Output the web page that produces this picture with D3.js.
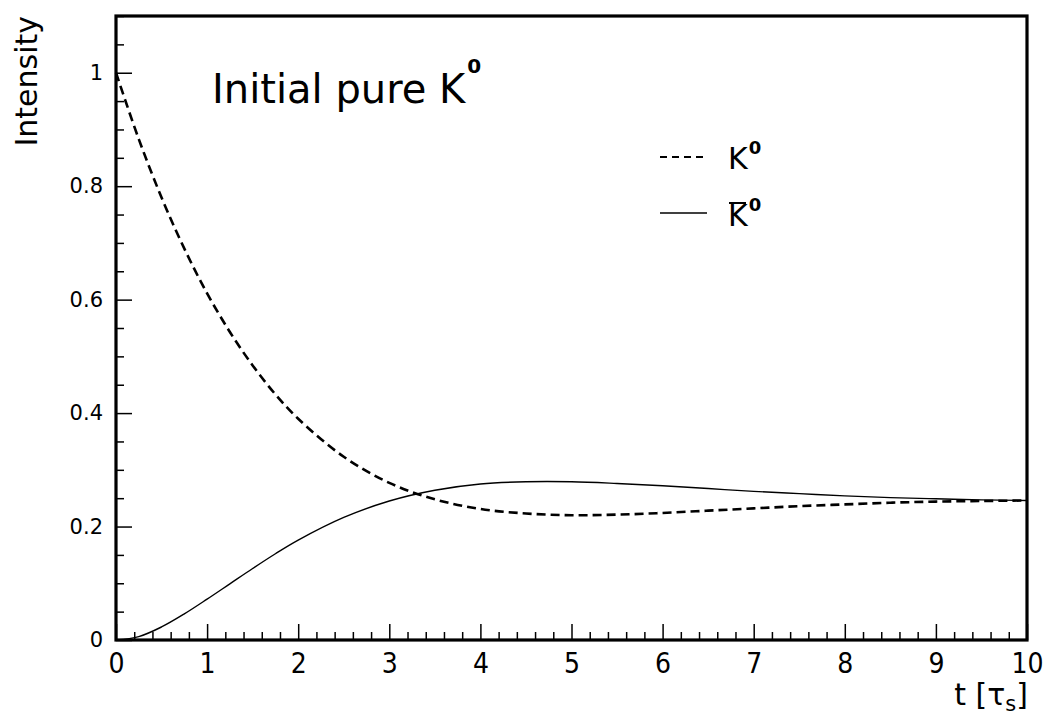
<!DOCTYPE html>
<html>
<head>
<meta charset="utf-8">
<script src="https://cdn.jsdelivr.net/npm/d3@7"></script>
<style>
  body { margin: 0; background: #fff; }
  text { font-family: "DejaVu Sans", sans-serif; fill: #000; }
</style>
</head>
<body>
<div class="chart"></div>
<script>
// Time in units of tau_S
var times = [0, 0.25, 0.5, 0.75, 1, 1.25, 1.5, 1.75, 2, 2.5, 3, 3.5, 4, 4.5, 5,
             5.5, 6, 6.5, 7, 7.5, 8, 8.5, 9, 9.5, 10];
// Intensity of K0 (dashed) and K0bar (solid)
var k0 = [1.000, 0.883, 0.780, 0.690, 0.611, 0.543, 0.484, 0.433, 0.390, 0.323, 0.277,
          0.248, 0.231, 0.223, 0.220, 0.221, 0.224, 0.228, 0.232, 0.236, 0.239, 0.242,
          0.244, 0.245, 0.246];
var k0bar = [0.000, 0.006, 0.023, 0.046, 0.072, 0.099, 0.126, 0.152, 0.176, 0.216, 0.245,
             0.264, 0.275, 0.279, 0.279, 0.276, 0.272, 0.267, 0.262, 0.258, 0.254, 0.251,
             0.249, 0.247, 0.246];

var xTickLabels = [0, 1, 2, 3, 4, 5, 6, 7, 8, 9, 10];
var yTickLabels = [0, 0.2, 0.4, 0.6, 0.8, 1];

// Create svg canvas and margins
var svgWidth = 1044;
var svgHeight = 717;

var margin = {
    top: 16,
    bottom: 77,
    left: 116,
    right: 17
};
var width = svgWidth - margin.left - margin.right;
var height = svgHeight - margin.top - margin.bottom;

var svg = d3.select(".chart")
            .append("svg")
            .attr("width", svgWidth)
            .attr("height", svgHeight);

var chartGroup = svg.append("g")
                    .attr("transform", `translate(${margin.left}, ${margin.top})`);

// Scales
var xScale = d3.scaleLinear().domain([0, 10]).range([0, width]);
var yScale = d3.scaleLinear().domain([0, 1.1]).range([height, 0]);

// Minor ticks
var xMinor = d3.range(0, 10.001, 0.2).filter(d => Math.abs(d - Math.round(d)) > 1e-6);
var yMinor = d3.range(0, 1.1001, 0.05).filter(d => Math.abs(d * 5 - Math.round(d * 5)) > 1e-6);

chartGroup.append("g")
          .attr("transform", `translate(0, ${height})`)
          .call(d3.axisBottom(xScale).tickValues(xMinor).tickSize(-8).tickFormat(""))
          .call(g => g.select(".domain").remove());
chartGroup.append("g")
          .call(d3.axisLeft(yScale).tickValues(yMinor).tickSize(-8).tickFormat(""))
          .call(g => g.select(".domain").remove());

// Major ticks and labels
var xAxis = chartGroup.append("g")
          .attr("transform", `translate(0, ${height})`)
          .call(d3.axisBottom(xScale).tickValues(xTickLabels).tickSize(-16)
                  .tickPadding(13).tickFormat(d3.format("d")));
xAxis.select(".domain").remove();
xAxis.selectAll("text")
     .style("font-family", "'DejaVu Sans Condensed', 'DejaVu Sans', sans-serif")
     .style("font-size", "28px");

var yAxis = chartGroup.append("g")
          .call(d3.axisLeft(yScale).tickValues(yTickLabels).tickSize(-16)
                  .tickPadding(13).tickFormat(d => d === 0 || d === 1 ? d : d3.format(".1f")(d)));
yAxis.select(".domain").remove();
yAxis.selectAll("text").style("font-size", "21px");

chartGroup.selectAll(".tick line").attr("stroke", "#000").attr("stroke-width", 1.5);

// Curves
var line = d3.line()
             .x((d, i) => xScale(times[i]))
             .y(d => yScale(d))
             .curve(d3.curveCatmullRom);

chartGroup.append("path")
          .datum(k0bar)
          .attr("d", line)
          .attr("fill", "none")
          .attr("stroke", "#000")
          .attr("stroke-width", 1.4);

chartGroup.append("path")
          .datum(k0)
          .attr("d", line)
          .attr("fill", "none")
          .attr("stroke", "#000")
          .attr("stroke-width", 2.6)
          .attr("stroke-dasharray", "9,5");

// Frame
chartGroup.append("rect")
          .attr("width", width)
          .attr("height", height)
          .attr("fill", "none")
          .attr("stroke", "#000")
          .attr("stroke-width", 3.2);

// Title
var title = svg.append("text")
               .attr("x", 212)
               .attr("y", 103)
               .style("font-size", "40px");
title.append("tspan").text("Initial pure K");
title.append("tspan").attr("dy", -30).attr("dx", 2)
     .style("font-size", "20px").style("font-weight", "bold").text("0");

// Legend
var legend = svg.append("g").attr("transform", "translate(660, 157)");
legend.append("line")
      .attr("x1", 0).attr("x2", 44).attr("y1", 0).attr("y2", 0)
      .attr("stroke", "#000").attr("stroke-width", 2.2)
      .attr("stroke-dasharray", "7,5");
legend.append("line")
      .attr("x1", 0).attr("x2", 47).attr("y1", 56).attr("y2", 56)
      .attr("stroke", "#000").attr("stroke-width", 1.5);

var l1 = legend.append("text").attr("x", 68).attr("y", 12).style("font-size", "30px");
l1.append("tspan").text("K");
l1.append("tspan").attr("dy", -15).attr("dx", 1)
  .style("font-size", "18px").style("font-weight", "bold").text("0");

var l2 = legend.append("text").attr("x", 68).attr("y", 69).style("font-size", "30px");
l2.append("tspan").text("K");
l2.append("tspan").attr("dy", -15).attr("dx", 1)
  .style("font-size", "18px").style("font-weight", "bold").text("0");
legend.append("line")
      .attr("x1", 69).attr("x2", 86).attr("y1", 46).attr("y2", 46)
      .attr("stroke", "#000").attr("stroke-width", 2);

// Axis titles
svg.append("text")
   .attr("transform", "translate(37, 16) rotate(-90)")
   .attr("text-anchor", "end")
   .style("font-size", "30px")
   .text("Intensity");

var xt = svg.append("text")
            .attr("x", 1028)
            .attr("y", 705)
            .attr("text-anchor", "end")
            .style("font-size", "30px");
xt.append("tspan").text("t [τ");
xt.append("tspan").attr("dy", 6).style("font-size", "21px").text("s");
xt.append("tspan").attr("dy", -6).text("]");
</script>
</body>
</html>
